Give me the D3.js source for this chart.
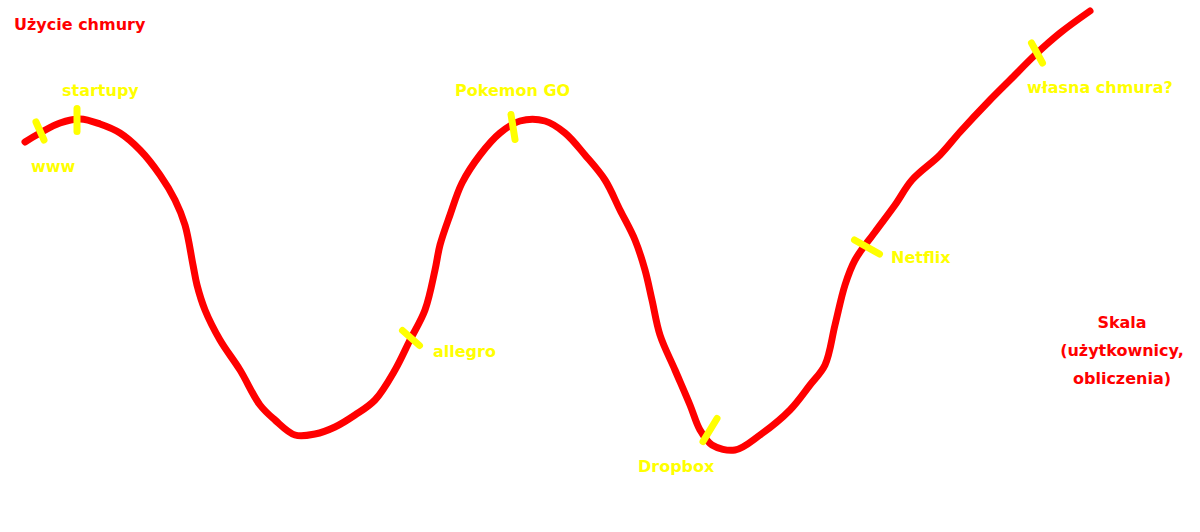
<!DOCTYPE html>
<html>
<head>
<meta charset="utf-8">
<script src="https://cdn.jsdelivr.net/npm/d3@7"></script>
<style>
html,body{margin:0;padding:0;background:#fff;}
svg{display:block;}
text{font-family:"Comic Sans MS","DejaVu Sans",sans-serif;font-weight:bold;}
</style>
</head>
<body>
<svg id="chart" width="1200" height="532"></svg>
<script>
// time (0..1200) vs cloud usage (0..532, higher = more use)
const curveTime  = [25,40,60,80,100,120,140,160,175,185,193,197,205,220,240,260,275,295,315,335,355,375,395,410,425,435,440,450,462,480,500,520,545,565,585,605,620,635,645,652,660,675,690,700,712,735,760,790,810,825,835,845,855,875,895,912,940,960,990,1010,1035,1060,1090];
const curveUsage = [390,399,409,413,408,399,382,357,332,307,267,247,222,192,162,127,112,97,98,105,117,132,162,192,222,262,287,317,349,377,399,411,411,399,377,352,322,292,262,232,197,162,127,102,87,82,97,122,147,167,207,247,272,300,327,352,377,400,432,452,477,499,521];

// event markers on the curve
const eventNames = ["www","startupy","Pokemon GO","allegro","Dropbox","Netflix","własna chmura?"];
const eventTime  = [40,77,513,411,710,867,1037];
const eventUsage = [401,412,405,194,102,285,479];
const eventDT    = [8,0,4,17,-14,25,11];
const eventDU    = [-18,-23,-25,-15,-23,-14,-20];
const labelTime  = [31,62,455,433,638,891,1027];
const labelUsage = [365,441,441,180,65,274,444];

const titleText = "Użycie chmury";
const scaleLines = ["Skala","(użytkownicy,","obliczenia)"];

const W = 1200, H = 532;
const x = d3.scaleLinear().domain([0,1200]).range([0,W]);
const y = d3.scaleLinear().domain([0,532]).range([H,0]);

const svg = d3.select("#chart");

const pts = curveTime.map((t,i)=>[t,curveUsage[i]]);
const line = d3.line().x(d=>x(d[0])).y(d=>y(d[1])).curve(d3.curveCatmullRom.alpha(0.5));

svg.append("path")
  .attr("d", line(pts))
  .attr("fill","none")
  .attr("stroke","#ff0000")
  .attr("stroke-width",7)
  .attr("stroke-linecap","round")
  .attr("stroke-linejoin","round");

const ev = eventNames.map((n,i)=>({n,t:eventTime[i],u:eventUsage[i],dt:eventDT[i],du:eventDU[i],lt:labelTime[i],lu:labelUsage[i]}));

svg.selectAll("line.ev").data(ev).enter().append("line")
  .attr("class","ev")
  .attr("x1",d=>x(d.t-d.dt/2)).attr("y1",d=>y(d.u-d.du/2))
  .attr("x2",d=>x(d.t+d.dt/2)).attr("y2",d=>y(d.u+d.du/2))
  .attr("stroke","#ffff00")
  .attr("stroke-width",7)
  .attr("stroke-linecap","round");

svg.selectAll("text.ev").data(ev).enter().append("text")
  .attr("class","ev")
  .attr("x",d=>x(d.lt)).attr("y",d=>y(d.lu))
  .attr("dominant-baseline","middle")
  .attr("fill","#ffff00")
  .attr("font-size",16)
  .text(d=>d.n);

svg.append("text")
  .attr("x",14).attr("y",25)
  .attr("dominant-baseline","middle")
  .attr("fill","#ff0000")
  .attr("font-size",16)
  .text(titleText);

svg.selectAll("text.scale").data(scaleLines).enter().append("text")
  .attr("class","scale")
  .attr("x",1122)
  .attr("y",(d,i)=>323+i*28)
  .attr("text-anchor","middle")
  .attr("dominant-baseline","middle")
  .attr("fill","#ff0000")
  .attr("font-size",16)
  .text(d=>d);
</script>
</body>
</html>
